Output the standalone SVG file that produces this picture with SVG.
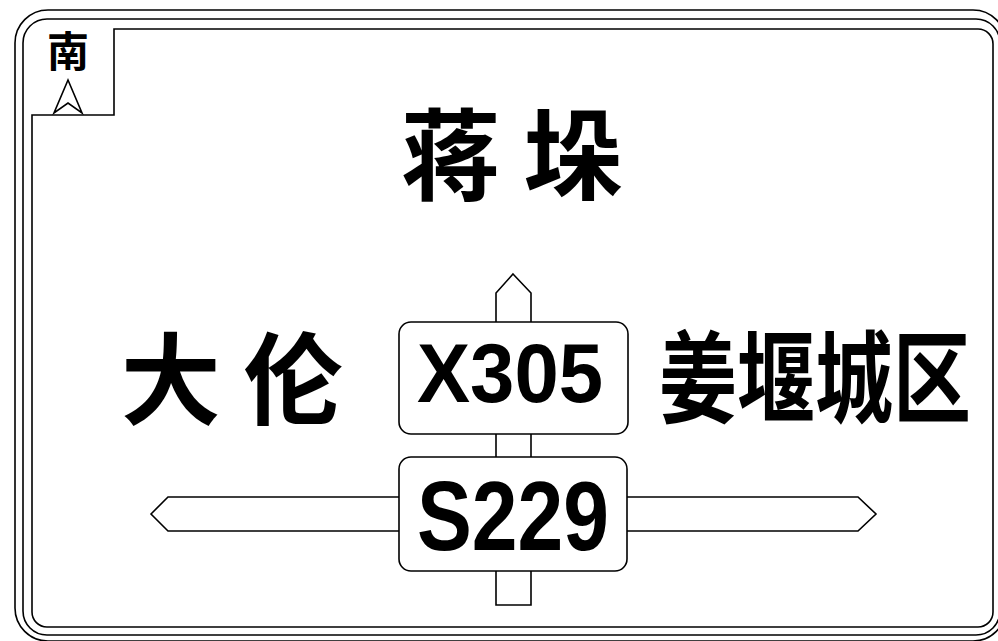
<svg xmlns="http://www.w3.org/2000/svg" width="998" height="641" viewBox="0 0 998 641">
<style>
.ln{fill:none;stroke:#000;stroke-width:1.6}
.sh{fill:#fff;stroke:#000;stroke-width:1.6;stroke-linejoin:miter}
.cjk{font-family:"Noto Sans CJK SC","Noto Sans CJK JP",sans-serif;font-weight:bold;fill:#000}
.rt{font-family:"Liberation Sans",Arial,sans-serif;font-weight:bold;fill:#000}
</style>
<rect width="998" height="641" fill="#fff"/>
<g id="border">
<rect class="ln" x="15" y="10" width="991" height="631" rx="33"/>
<rect class="ln" x="23" y="19" width="977" height="616" rx="24"/>
<path class="ln" d="M32,115 H114 V29 H978 A15,15 0 0 1 993,44 V612 A15,15 0 0 1 978,627 H47 A15,15 0 0 1 32,612 Z"/>
</g>
<g id="compass">
<text class="cjk" x="68" y="67" font-size="42" text-anchor="middle">南</text>
<path class="ln" d="M68,80 L82,113 L68,103 L54,113 Z" stroke-width="1.3"/>
</g>
<g id="connectors">
<path class="sh" d="M513,274 L531,293 V605 H496 V293 Z"/>
<path class="sh" d="M151,514 L168,497 H858 L876,514 L858,531 H168 Z"/>
</g>
<g id="node-jiangduo">
<text class="cjk" x="512" y="193" font-size="100" text-anchor="middle">蒋 垛</text>
</g>
<g id="node-dalun">
<text class="cjk" x="232" y="417" font-size="100" text-anchor="middle">大 伦</text>
</g>
<g id="node-jiangyan">
<text class="cjk" x="0" y="0" font-size="100" text-anchor="middle" transform="translate(815,415) scale(0.78,1)">姜堰城区</text>
</g>
<g id="node-x305">
<rect class="sh" x="399" y="322" width="229" height="112" rx="12"/>
<text class="rt" x="510" y="402" font-size="83" text-anchor="middle" textLength="186" lengthAdjust="spacingAndGlyphs">X305</text>
</g>
<g id="node-s229">
<rect class="sh" x="399" y="457" width="228" height="114" rx="12"/>
<text class="rt" x="513" y="550" font-size="98" text-anchor="middle" textLength="192" lengthAdjust="spacingAndGlyphs">S229</text>
</g>
</svg>
